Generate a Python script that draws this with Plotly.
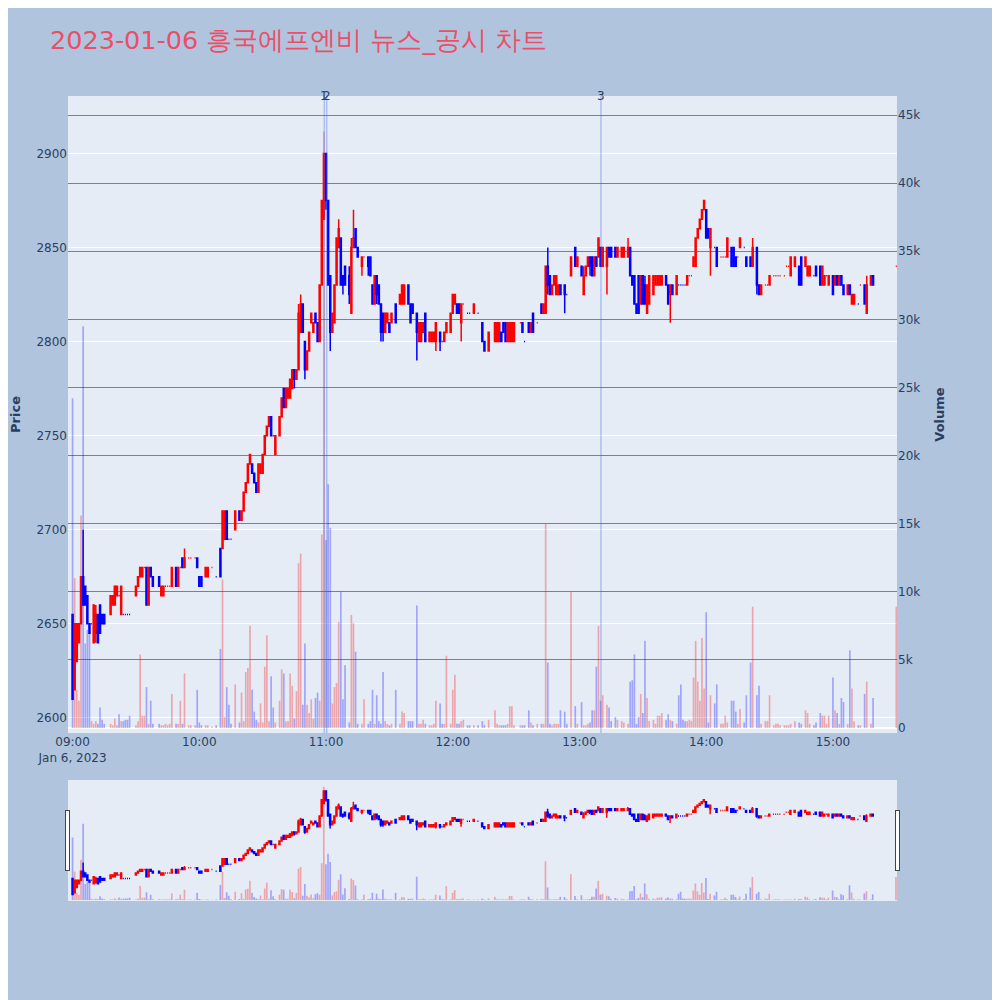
import pandas as pd
import plotly.graph_objects as go
from plotly.subplots import make_subplots

DAY = '2023-01-06'
TITLE = '2023-01-06 흥국에프엔비 뉴스_공시 차트'

# 1-minute bars
times = [
    '09:00', '09:01', '09:02', '09:03', '09:04', '09:05', '09:06', '09:07', '09:08', '09:09',
    '09:10', '09:11', '09:12', '09:13', '09:14', '09:15', '09:18', '09:19', '09:20', '09:21',
    '09:22', '09:23', '09:24', '09:25', '09:26', '09:27', '09:30', '09:31', '09:32', '09:33',
    '09:34', '09:35', '09:36', '09:37', '09:38', '09:41', '09:42', '09:43', '09:44', '09:45',
    '09:46', '09:47', '09:49', '09:50', '09:51', '09:52', '09:53', '09:55', '09:56', '09:58',
    '09:59', '10:00', '10:01', '10:03', '10:04', '10:06', '10:08', '10:10', '10:11', '10:12',
    '10:13', '10:14', '10:15', '10:17', '10:19', '10:20', '10:21', '10:22', '10:23', '10:24',
    '10:25', '10:26', '10:27', '10:28', '10:29', '10:30', '10:31', '10:32', '10:33', '10:34',
    '10:35', '10:36', '10:38', '10:39', '10:40', '10:41', '10:42', '10:43', '10:44', '10:45',
    '10:46', '10:47', '10:48', '10:49', '10:50', '10:51', '10:52', '10:53', '10:54', '10:55',
    '10:56', '10:57', '10:58', '10:59', '11:00', '11:01', '11:02', '11:03', '11:04', '11:05',
    '11:06', '11:07', '11:08', '11:09', '11:11', '11:12', '11:13', '11:14', '11:15', '11:17',
    '11:18', '11:20', '11:21', '11:22', '11:23', '11:24', '11:25', '11:26', '11:27', '11:28',
    '11:29', '11:30', '11:31', '11:33', '11:35', '11:36', '11:37', '11:39', '11:40', '11:41',
    '11:43', '11:44', '11:45', '11:46', '11:47', '11:49', '11:50', '11:51', '11:52', '11:54',
    '11:55', '11:56', '11:57', '11:59', '12:00', '12:01', '12:02', '12:03', '12:04', '12:05',
    '12:07', '12:08', '12:10', '12:12', '12:14', '12:15', '12:17', '12:20', '12:21', '12:22',
    '12:23', '12:24', '12:25', '12:26', '12:27', '12:28', '12:29', '12:32', '12:33', '12:34',
    '12:36', '12:37', '12:38', '12:40', '12:42', '12:43', '12:44', '12:45', '12:46', '12:47',
    '12:48', '12:49', '12:50', '12:51', '12:53', '12:54', '12:56', '12:58', '12:59', '13:01',
    '13:02', '13:03', '13:04', '13:05', '13:06', '13:07', '13:08', '13:09', '13:10', '13:11',
    '13:13', '13:14', '13:15', '13:17', '13:18', '13:20', '13:21', '13:23', '13:24', '13:25',
    '13:26', '13:27', '13:28', '13:29', '13:30', '13:31', '13:32', '13:33', '13:35', '13:36',
    '13:37', '13:38', '13:39', '13:41', '13:42', '13:43', '13:44', '13:46', '13:47', '13:48',
    '13:49', '13:50', '13:51', '13:52', '13:53', '13:54', '13:55', '13:56', '13:57', '13:58',
    '13:59', '14:00', '14:01', '14:02', '14:04', '14:05', '14:07', '14:08', '14:09', '14:10',
    '14:12', '14:13', '14:14', '14:15', '14:16', '14:18', '14:19', '14:21', '14:22', '14:24',
    '14:25', '14:26', '14:28', '14:29', '14:30', '14:32', '14:33', '14:34', '14:35', '14:37',
    '14:38', '14:39', '14:40', '14:42', '14:44', '14:45', '14:47', '14:48', '14:49', '14:51',
    '14:52', '14:54', '14:55', '14:56', '14:57', '14:58', '15:00', '15:01', '15:02', '15:03',
    '15:04', '15:05', '15:07', '15:08', '15:09', '15:10', '15:12', '15:13', '15:15', '15:16',
    '15:18', '15:19', '15:30',
]
opens = [
    2655, 2615, 2630, 2640, 2650, 2675, 2670, 2665, 2650, 2650,
    2640, 2645, 2655, 2660, 2655, 2655, 2655, 2660, 2660, 2665,
    2665, 2655, 2655, 2655, 2655, 2655, 2665, 2670, 2675, 2675,
    2680, 2680, 2660, 2680, 2675, 2675, 2665, 2665, 2670, 2670,
    2670, 2670, 2680, 2670, 2680, 2685, 2680, 2685, 2685, 2685,
    2685, 2675, 2675, 2675, 2675, 2680, 2675, 2690, 2690, 2695,
    2710, 2695, 2695, 2700, 2710, 2705, 2710, 2720, 2725, 2735,
    2735, 2730, 2725, 2720, 2730, 2730, 2740, 2750, 2755, 2760,
    2750, 2740, 2750, 2760, 2775, 2765, 2770, 2770, 2775, 2785,
    2780, 2785, 2805, 2820, 2800, 2785, 2795, 2810, 2805, 2815,
    2810, 2800, 2830, 2865, 2900, 2875, 2835, 2805, 2810, 2830,
    2850, 2855, 2835, 2840, 2835, 2815, 2850, 2860, 2850, 2840,
    2845, 2845, 2845, 2830, 2820, 2835, 2830, 2820, 2815, 2805,
    2810, 2810, 2810, 2820, 2820, 2820, 2820, 2830, 2820, 2820,
    2815, 2800, 2800, 2805, 2815, 2800, 2800, 2800, 2800, 2805,
    2800, 2800, 2805, 2805, 2815, 2820, 2820, 2820, 2810, 2820,
    2815, 2815, 2815, 2815, 2810, 2800, 2795, 2800, 2800, 2800,
    2805, 2810, 2810, 2800, 2800, 2800, 2800, 2810, 2810, 2800,
    2810, 2805, 2815, 2810, 2820, 2815, 2815, 2840, 2835, 2825,
    2830, 2825, 2825, 2830, 2830, 2825, 2835, 2850, 2840, 2840,
    2825, 2835, 2840, 2845, 2845, 2835, 2845, 2845, 2850, 2840,
    2840, 2850, 2850, 2850, 2845, 2845, 2845, 2845, 2850, 2835,
    2835, 2820, 2835, 2820, 2835, 2830, 2815, 2820, 2825, 2830,
    2830, 2830, 2830, 2835, 2830, 2825, 2830, 2825, 2830, 2830,
    2830, 2830, 2830, 2835, 2835, 2840, 2840, 2855, 2860, 2865,
    2870, 2870, 2860, 2850, 2850, 2850, 2845, 2845, 2845, 2845,
    2850, 2850, 2845, 2845, 2850, 2850, 2845, 2845, 2840, 2850,
    2830, 2825, 2830, 2830, 2830, 2835, 2835, 2835, 2835, 2835,
    2840, 2840, 2835, 2840, 2840, 2845, 2840, 2835, 2835, 2835,
    2840, 2840, 2830, 2830, 2835, 2830, 2835, 2830, 2835, 2830,
    2835, 2830, 2825, 2830, 2820, 2820, 2820, 2830, 2830, 2815,
    2830, 2835, 2840,
]
highs = [
    2655, 2650, 2650, 2650, 2675, 2700, 2670, 2665, 2650, 2650,
    2660, 2660, 2655, 2660, 2655, 2655, 2665, 2665, 2670, 2670,
    2665, 2670, 2655, 2655, 2655, 2655, 2670, 2675, 2680, 2680,
    2680, 2680, 2680, 2680, 2675, 2675, 2670, 2670, 2670, 2670,
    2670, 2680, 2680, 2680, 2680, 2685, 2690, 2685, 2685, 2685,
    2685, 2675, 2675, 2680, 2680, 2680, 2675, 2690, 2710, 2710,
    2710, 2695, 2695, 2710, 2710, 2710, 2720, 2725, 2735, 2740,
    2735, 2730, 2725, 2735, 2735, 2740, 2750, 2755, 2760, 2760,
    2750, 2750, 2760, 2770, 2775, 2775, 2775, 2780, 2785, 2785,
    2785, 2820, 2825, 2820, 2800, 2795, 2805, 2815, 2810, 2815,
    2810, 2830, 2875, 2900, 2900, 2875, 2835, 2815, 2830, 2855,
    2865, 2855, 2835, 2840, 2840, 2855, 2870, 2860, 2850, 2845,
    2845, 2845, 2845, 2830, 2835, 2835, 2830, 2820, 2815, 2815,
    2815, 2810, 2815, 2820, 2825, 2830, 2830, 2830, 2820, 2820,
    2815, 2810, 2810, 2810, 2815, 2805, 2805, 2805, 2810, 2805,
    2800, 2805, 2810, 2815, 2825, 2825, 2820, 2820, 2820, 2820,
    2815, 2815, 2820, 2815, 2810, 2800, 2805, 2810, 2810, 2810,
    2805, 2810, 2810, 2810, 2810, 2810, 2810, 2810, 2810, 2800,
    2810, 2810, 2815, 2810, 2820, 2820, 2840, 2850, 2835, 2830,
    2835, 2835, 2830, 2830, 2830, 2825, 2845, 2850, 2845, 2840,
    2840, 2840, 2845, 2845, 2845, 2845, 2845, 2855, 2850, 2850,
    2850, 2850, 2850, 2850, 2850, 2850, 2850, 2855, 2850, 2835,
    2835, 2820, 2835, 2835, 2835, 2835, 2830, 2835, 2835, 2835,
    2835, 2835, 2835, 2835, 2830, 2830, 2830, 2835, 2830, 2830,
    2830, 2830, 2835, 2835, 2835, 2845, 2855, 2860, 2865, 2870,
    2875, 2870, 2860, 2860, 2850, 2850, 2845, 2845, 2845, 2855,
    2850, 2850, 2845, 2845, 2855, 2850, 2845, 2845, 2855, 2850,
    2830, 2830, 2830, 2830, 2835, 2835, 2835, 2835, 2835, 2835,
    2840, 2840, 2845, 2845, 2840, 2845, 2845, 2840, 2840, 2835,
    2840, 2840, 2840, 2835, 2835, 2835, 2835, 2835, 2835, 2835,
    2835, 2830, 2830, 2830, 2825, 2825, 2820, 2830, 2830, 2835,
    2835, 2835, 2840,
]
lows = [
    2610, 2615, 2630, 2640, 2650, 2660, 2660, 2650, 2645, 2650,
    2640, 2640, 2640, 2645, 2650, 2650, 2655, 2660, 2660, 2665,
    2665, 2655, 2655, 2655, 2655, 2655, 2665, 2670, 2675, 2675,
    2680, 2660, 2660, 2675, 2670, 2670, 2665, 2665, 2670, 2670,
    2670, 2670, 2670, 2670, 2680, 2680, 2680, 2685, 2685, 2685,
    2680, 2670, 2670, 2675, 2675, 2680, 2675, 2675, 2690, 2695,
    2695, 2695, 2695, 2700, 2705, 2705, 2710, 2720, 2725, 2735,
    2730, 2725, 2720, 2720, 2730, 2730, 2740, 2750, 2755, 2750,
    2750, 2740, 2750, 2760, 2765, 2765, 2770, 2770, 2775, 2775,
    2780, 2785, 2805, 2805, 2780, 2785, 2795, 2810, 2805, 2810,
    2800, 2800, 2830, 2865, 2870, 2830, 2795, 2805, 2810, 2830,
    2850, 2830, 2825, 2830, 2820, 2815, 2850, 2850, 2845, 2835,
    2845, 2835, 2835, 2820, 2820, 2820, 2820, 2800, 2800, 2805,
    2810, 2805, 2810, 2810, 2820, 2820, 2820, 2820, 2810, 2815,
    2790, 2800, 2800, 2805, 2800, 2800, 2800, 2800, 2795, 2795,
    2800, 2800, 2805, 2805, 2815, 2820, 2815, 2815, 2800, 2820,
    2815, 2815, 2815, 2815, 2800, 2795, 2795, 2800, 2800, 2800,
    2800, 2805, 2800, 2800, 2800, 2800, 2800, 2810, 2805, 2800,
    2805, 2805, 2805, 2810, 2815, 2815, 2815, 2825, 2825, 2825,
    2830, 2825, 2825, 2825, 2815, 2825, 2835, 2840, 2840, 2835,
    2825, 2835, 2840, 2835, 2835, 2835, 2840, 2845, 2840, 2840,
    2825, 2845, 2845, 2845, 2845, 2845, 2845, 2845, 2835, 2830,
    2820, 2815, 2815, 2820, 2820, 2820, 2815, 2820, 2825, 2830,
    2830, 2830, 2830, 2830, 2820, 2810, 2825, 2825, 2830, 2830,
    2830, 2830, 2830, 2835, 2835, 2840, 2840, 2855, 2860, 2865,
    2870, 2855, 2855, 2835, 2850, 2840, 2845, 2845, 2845, 2845,
    2840, 2840, 2840, 2845, 2850, 2850, 2840, 2840, 2840, 2825,
    2825, 2825, 2830, 2830, 2830, 2835, 2835, 2835, 2835, 2835,
    2840, 2840, 2835, 2840, 2830, 2830, 2840, 2835, 2835, 2835,
    2835, 2830, 2830, 2830, 2835, 2830, 2825, 2830, 2830, 2830,
    2830, 2825, 2825, 2825, 2820, 2820, 2820, 2830, 2820, 2815,
    2830, 2830, 2840,
]
closes = [
    2610, 2650, 2650, 2650, 2675, 2660, 2660, 2650, 2645, 2650,
    2660, 2655, 2640, 2645, 2650, 2650, 2665, 2665, 2670, 2670,
    2665, 2670, 2655, 2655, 2655, 2655, 2670, 2675, 2680, 2680,
    2680, 2660, 2680, 2675, 2670, 2670, 2670, 2670, 2670, 2670,
    2670, 2680, 2670, 2680, 2680, 2680, 2685, 2685, 2685, 2685,
    2680, 2670, 2670, 2680, 2680, 2680, 2675, 2675, 2710, 2710,
    2695, 2695, 2695, 2710, 2705, 2710, 2720, 2725, 2735, 2740,
    2730, 2725, 2720, 2735, 2735, 2740, 2750, 2755, 2760, 2750,
    2750, 2750, 2760, 2770, 2765, 2775, 2775, 2780, 2785, 2780,
    2785, 2815, 2820, 2805, 2785, 2795, 2805, 2815, 2810, 2810,
    2800, 2830, 2875, 2900, 2875, 2830, 2805, 2815, 2830, 2855,
    2860, 2830, 2830, 2830, 2825, 2850, 2855, 2850, 2845, 2845,
    2845, 2840, 2835, 2820, 2835, 2825, 2820, 2805, 2805, 2815,
    2815, 2805, 2815, 2810, 2825, 2830, 2830, 2820, 2810, 2815,
    2805, 2810, 2810, 2810, 2800, 2805, 2805, 2805, 2810, 2800,
    2800, 2805, 2810, 2815, 2825, 2825, 2815, 2815, 2820, 2820,
    2815, 2815, 2820, 2815, 2800, 2795, 2805, 2810, 2810, 2810,
    2800, 2805, 2800, 2810, 2810, 2810, 2810, 2810, 2805, 2800,
    2805, 2810, 2805, 2810, 2815, 2820, 2840, 2830, 2825, 2830,
    2835, 2835, 2830, 2825, 2825, 2825, 2845, 2840, 2845, 2835,
    2835, 2840, 2845, 2840, 2835, 2845, 2840, 2855, 2840, 2850,
    2850, 2845, 2845, 2845, 2850, 2850, 2850, 2850, 2835, 2830,
    2820, 2815, 2815, 2835, 2820, 2820, 2830, 2835, 2835, 2835,
    2835, 2835, 2835, 2830, 2820, 2830, 2825, 2835, 2830, 2830,
    2830, 2830, 2835, 2835, 2835, 2845, 2855, 2860, 2865, 2870,
    2875, 2855, 2855, 2860, 2850, 2840, 2845, 2845, 2845, 2855,
    2840, 2840, 2840, 2845, 2855, 2850, 2840, 2840, 2850, 2830,
    2825, 2830, 2830, 2830, 2835, 2835, 2835, 2835, 2835, 2835,
    2840, 2840, 2845, 2845, 2830, 2830, 2845, 2840, 2840, 2835,
    2835, 2830, 2840, 2835, 2835, 2835, 2825, 2835, 2830, 2835,
    2830, 2825, 2830, 2825, 2825, 2825, 2820, 2830, 2820, 2830,
    2835, 2830, 2840,
]
volumes = [
    24200, 11000, 2800, 2000, 15600, 29500, 6200, 7200, 7000, 500,
    300, 500, 300, 1500, 600, 300, 300, 200, 700, 200,
    1000, 500, 500, 600, 600, 900, 200, 500, 5400, 900,
    900, 3000, 300, 2000, 300, 300, 200, 200, 300, 200,
    300, 2500, 300, 300, 2000, 300, 4000, 200, 200, 200,
    2800, 400, 200, 200, 200, 100, 200, 5800, 10900, 800,
    3000, 1700, 300, 3200, 400, 2600, 500, 4100, 4400, 7500,
    2800, 1200, 600, 400, 1800, 400, 4500, 6800, 500, 3800,
    1500, 400, 2000, 4300, 4000, 500, 500, 4000, 3100, 700,
    2700, 12100, 12800, 1700, 6200, 1700, 1100, 2100, 700, 2200,
    2600, 2000, 14200, 43800, 13800, 17900, 14700, 1800, 3000, 3300,
    7800, 10000, 2100, 4600, 400, 8300, 7700, 5600, 300, 300,
    2100, 300, 500, 2800, 300, 2400, 500, 300, 4100, 500,
    300, 200, 300, 2800, 300, 1200, 1100, 500, 500, 500,
    9000, 300, 300, 600, 300, 200, 200, 300, 2000, 1800,
    300, 300, 5300, 300, 2800, 3900, 300, 300, 500, 600,
    200, 200, 200, 200, 500, 200, 600, 1300, 300, 200,
    200, 200, 200, 300, 1600, 1600, 200, 200, 200, 200,
    1300, 400, 200, 300, 300, 300, 15000, 4800, 300, 200,
    300, 300, 300, 1300, 1200, 300, 10000, 1600, 300, 1900,
    200, 200, 300, 400, 1300, 1300, 4500, 7500, 2000, 2400,
    1700, 1500, 500, 800, 600, 500, 400, 300, 3400, 3500,
    5400, 300, 800, 2500, 1100, 6400, 2200, 500, 600, 300,
    900, 900, 1100, 600, 1000, 600, 500, 300, 2400, 3200,
    600, 500, 500, 600, 500, 3700, 6400, 3400, 2000, 6600,
    2900, 8500, 400, 2400, 1800, 3200, 300, 300, 900, 400,
    2000, 2000, 1200, 300, 1400, 400, 2400, 4800, 8900, 2400,
    3100, 300, 500, 500, 2400, 200, 300, 300, 200, 200,
    200, 200, 300, 500, 400, 300, 1300, 1100, 300, 200,
    400, 1100, 900, 900, 300, 900, 3700, 1300, 1100, 300,
    2200, 1900, 300, 5700, 2900, 500, 200, 200, 2500, 3400,
    300, 2200, 8900,
]

news_times = ['10:59:10', '11:00:20', '13:10:10']
news_labels = ['1', '2', '3']

dt = pd.to_datetime([f'{DAY} {t}' for t in times])

# volume colour follows the candle direction (flat bars use the previous close)
bar_colors = []
prev_c, prev_up = None, True
for o, c in zip(opens, closes):
    if c > o:
        up = True
    elif c < o:
        up = False
    elif prev_c is not None and c != prev_c:
        up = c > prev_c
    else:
        up = prev_up
    bar_colors.append('rgba(255,0,0,0.3)' if up else 'rgba(0,0,255,0.3)')
    prev_c, prev_up = c, up

fig = make_subplots(specs=[[{'secondary_y': True}]])
fig.add_trace(go.Candlestick(
    x=dt, open=opens, high=highs, low=lows, close=closes,
    increasing=dict(line=dict(color='red', width=1.5), fillcolor='red'),
    decreasing=dict(line=dict(color='blue', width=1.5), fillcolor='blue'),
    name='Price'), secondary_y=False)
fig.add_trace(go.Bar(
    x=dt, y=volumes, marker_color=bar_colors, marker_line_width=0,
    name='Volume'), secondary_y=True)

for t, label in zip(news_times, news_labels):
    x = f'{DAY} {t}'
    fig.add_shape(type='line', x0=x, x1=x, y0=0, y1=1, xref='x', yref='paper',
                  line=dict(color='rgba(65,105,225,0.35)', width=1.5))
    fig.add_annotation(x=x, y=1, xref='x', yref='paper', text=label,
                       showarrow=False, yanchor='middle',
                       font=dict(size=12, color='#2a3f5f'))

fig.update_layout(
    width=1000, height=1000,
    template='plotly',
    font=dict(family='DejaVu Sans', size=12),
    paper_bgcolor='#B0C4DE',
    showlegend=False,
    title=dict(text=TITLE, x=0.042, y=0.968, yanchor='middle',
               font=dict(size=25.5, color='#EB4F68')),
    margin=dict(l=60, r=111, t=88, b=108),
)
fig.update_xaxes(
    type='date', showgrid=False, domain=[0, 1],
    range=[f'{DAY} 08:57:50', f'{DAY} 15:30:20'],
    rangeslider=dict(visible=True),
)
fig.update_yaxes(title=dict(text='Price', font=dict(size=13, weight='bold')),
                 range=[2592, 2930.5], dtick=50, automargin=False,
                 secondary_y=False)
fig.update_yaxes(title=dict(text='Volume', font=dict(size=13, weight='bold')),
                 range=[-370, 46400], dtick=5000, showgrid=True, automargin=False,
                 gridcolor='gray', gridwidth=1, secondary_y=True)

fig.write_html('out.html')
